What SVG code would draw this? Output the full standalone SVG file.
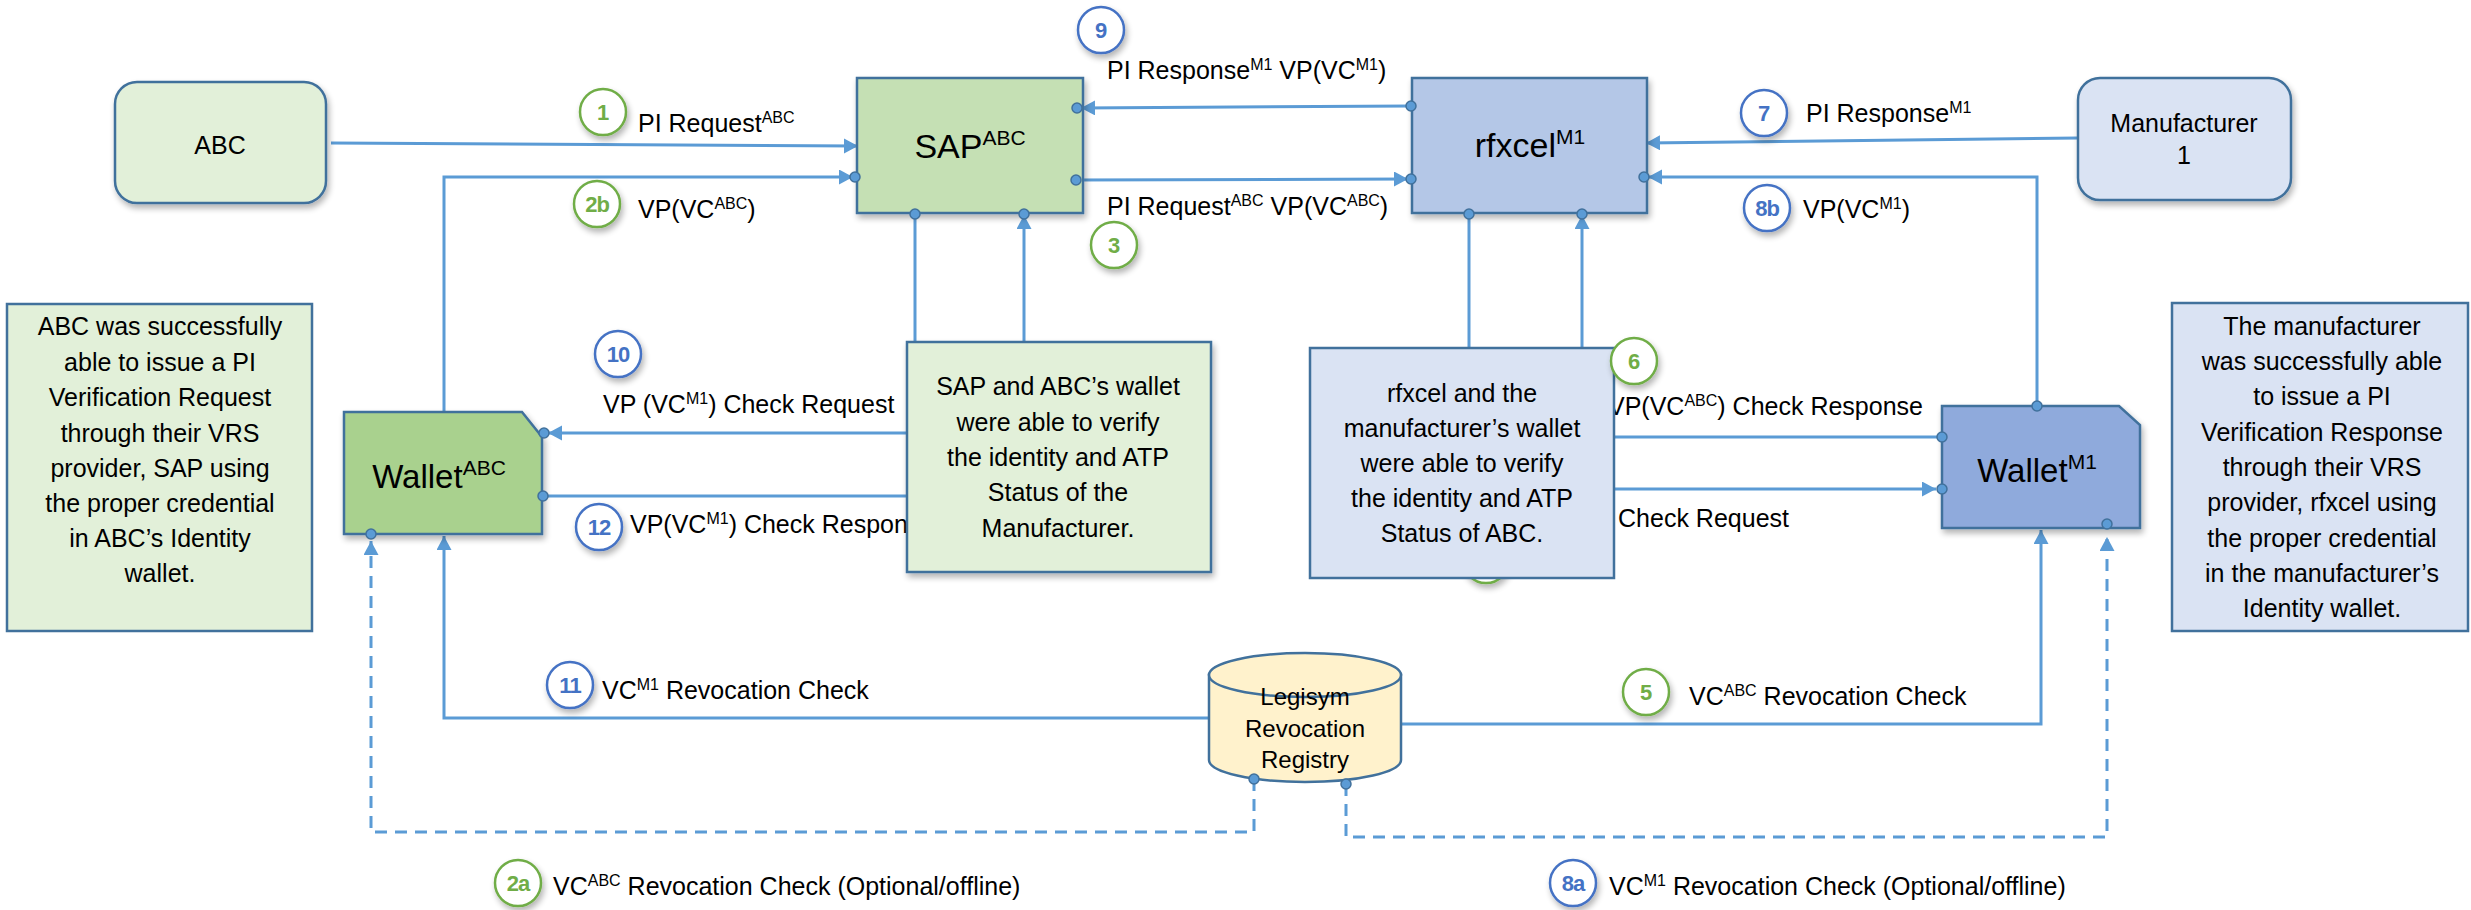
<svg xmlns="http://www.w3.org/2000/svg" width="2471" height="910" viewBox="0 0 2471 910">
<style>
text{font-family:"Liberation Sans",Arial,sans-serif;fill:#000}
.lbl{font-size:25px}
.sup{font-size:16px}
.num{font-weight:bold;font-size:22px;text-anchor:middle}
.mid{text-anchor:middle}
.conn{fill:none;stroke:#5B9BD5;stroke-width:3}
.dash{stroke-dasharray:12 8}
.dot{fill:#5B9BD5;stroke:#41719C;stroke-width:1.5}
.cg{fill:#fff;stroke:#70AD47;stroke-width:2.5}
.cb{fill:#fff;stroke:#4472C4;stroke-width:2.5}
.tg{fill:#70AD47}
.tb{fill:#4472C4}
.box{stroke:#41719C;stroke-width:2.5}
</style>
<defs>
<filter id="sh" x="-20%" y="-20%" width="150%" height="150%">
<feGaussianBlur in="SourceAlpha" stdDeviation="3"/>
<feOffset dx="2" dy="4" result="o"/>
<feComponentTransfer><feFuncA type="linear" slope="0.3"/></feComponentTransfer>
<feMerge><feMergeNode/><feMergeNode in="SourceGraphic"/></feMerge>
</filter>
<marker id="ah" markerUnits="userSpaceOnUse" markerWidth="16" markerHeight="16" refX="14" refY="7.5" orient="auto">
<path d="M0,0 L14,7.5 L0,15 z" fill="#5B9BD5"/>
</marker>
</defs>

<!-- circle 4, mostly hidden behind the rfxcel note -->
<g id="step4"><circle class="cg" cx="1486" cy="560" r="23" filter="url(#sh)"/></g>

<g id="connectors">
<path class="conn" d="M331,143 L858,146" marker-end="url(#ah)"/>
<path class="conn" d="M444,412 V177 H853" marker-end="url(#ah)"/>
<path class="conn" d="M1410,106 L1081,108" marker-end="url(#ah)"/>
<path class="conn" d="M1076,180 L1408,179" marker-end="url(#ah)"/>
<path class="conn" d="M2078,138 L1646,143" marker-end="url(#ah)"/>
<path class="conn" d="M2037,406 V177 H1648" marker-end="url(#ah)"/>
<path class="conn" d="M915,213 V342"/>
<path class="conn" d="M1024,342 V215" marker-end="url(#ah)"/>
<path class="conn" d="M1469,213 V348"/>
<path class="conn" d="M1582,348 V215" marker-end="url(#ah)"/>
<path class="conn" d="M907,433 H548" marker-end="url(#ah)"/>
<path class="conn" d="M542,496 H907"/>
<path class="conn" d="M1614,437 H1942"/>
<path class="conn" d="M1614,489 H1936" marker-end="url(#ah)"/>
<path class="conn" d="M1208,718 H444 V536" marker-end="url(#ah)"/>
<path class="conn" d="M1401,724 H2041 V530" marker-end="url(#ah)"/>
<path class="conn dash" d="M1254,779 V832 H371 V541" marker-end="url(#ah)"/>
<path class="conn dash" d="M1346,784 V837 H2107 V537" marker-end="url(#ah)"/>
</g>

<g id="labels">
<text class="lbl" x="638" y="132">PI Request<tspan class="sup" dy="-9">ABC</tspan></text>
<text class="lbl" x="638" y="218">VP(VC<tspan class="sup" dy="-9">ABC</tspan><tspan dy="9">)</tspan></text>
<text class="lbl" x="1107" y="79">PI Response<tspan class="sup" dy="-9">M1</tspan><tspan dy="9"> VP(VC</tspan><tspan class="sup" dy="-9">M1</tspan><tspan dy="9">)</tspan></text>
<text class="lbl" x="1107" y="215">PI Request<tspan class="sup" dy="-9">ABC</tspan><tspan dy="9"> VP(VC</tspan><tspan class="sup" dy="-9">ABC</tspan><tspan dy="9">)</tspan></text>
<text class="lbl" x="1806" y="122">PI Response<tspan class="sup" dy="-9">M1</tspan></text>
<text class="lbl" x="1803" y="218">VP(VC<tspan class="sup" dy="-9">M1</tspan><tspan dy="9">)</tspan></text>
<text class="lbl" x="603" y="413">VP (VC<tspan class="sup" dy="-9">M1</tspan><tspan dy="9">) Check Request</tspan></text>
<text class="lbl" x="630" y="533">VP(VC<tspan class="sup" dy="-9">M1</tspan><tspan dy="9">) Check Respon</tspan></text>
<text class="lbl" x="1608" y="415">VP(VC<tspan class="sup" dy="-9">ABC</tspan><tspan dy="9">) Check Response</tspan></text>
<text class="lbl" x="1789" y="527" text-anchor="end">Check Request</text>
<text class="lbl" x="602" y="699">VC<tspan class="sup" dy="-9">M1</tspan><tspan dy="9"> Revocation Check</tspan></text>
<text class="lbl" x="1689" y="705">VC<tspan class="sup" dy="-9">ABC</tspan><tspan dy="9"> Revocation Check</tspan></text>
<text class="lbl" x="553" y="895">VC<tspan class="sup" dy="-9">ABC</tspan><tspan dy="9"> Revocation Check (Optional/offline)</tspan></text>
<text class="lbl" x="1609" y="895">VC<tspan class="sup" dy="-9">M1</tspan><tspan dy="9"> Revocation Check (Optional/offline)</tspan></text>
</g>

<g id="abc">
<rect class="box" x="115" y="82" width="211" height="121" rx="22" fill="#E2F0D9" filter="url(#sh)"/>
<text class="mid" x="220" y="154" font-size="25">ABC</text>
</g>

<g id="manufacturer">
<rect class="box" x="2078" y="78" width="213" height="122" rx="22" fill="#DAE3F3" filter="url(#sh)"/>
<text class="mid" x="2184" y="132" font-size="25">Manufacturer</text>
<text class="mid" x="2184" y="164" font-size="25">1</text>
</g>

<g id="sap">
<rect class="box" x="857" y="78" width="226" height="135" fill="#C5E0B4" filter="url(#sh)"/>
<text class="mid" x="970" y="158" font-size="34">SAP<tspan font-size="21" dy="-13">ABC</tspan></text>
</g>

<g id="rfxcel">
<rect class="box" x="1412" y="78" width="235" height="135" fill="#B4C7E7" filter="url(#sh)"/>
<text class="mid" x="1530" y="157" font-size="34">rfxcel<tspan font-size="21" dy="-13">M1</tspan></text>
</g>

<g id="note-abc">
<rect class="box" x="7" y="304" width="305" height="327" fill="#E2F0D9"/>
<text class="mid lbl" x="160" y="335">ABC was successfully</text>
<text class="mid lbl" x="160" y="371">able to issue a PI</text>
<text class="mid lbl" x="160" y="406">Verification Request</text>
<text class="mid lbl" x="160" y="442">through their VRS</text>
<text class="mid lbl" x="160" y="477">provider, SAP using</text>
<text class="mid lbl" x="160" y="512">the proper credential</text>
<text class="mid lbl" x="160" y="547">in ABC’s Identity</text>
<text class="mid lbl" x="160" y="582">wallet.</text>
</g>

<g id="note-m1">
<rect class="box" x="2172" y="303" width="296" height="328" fill="#DAE3F3"/>
<text class="mid lbl" x="2322" y="335">The manufacturer</text>
<text class="mid lbl" x="2322" y="370">was successfully able</text>
<text class="mid lbl" x="2322" y="405">to issue a PI</text>
<text class="mid lbl" x="2322" y="441">Verification Response</text>
<text class="mid lbl" x="2322" y="476">through their VRS</text>
<text class="mid lbl" x="2322" y="511">provider, rfxcel using</text>
<text class="mid lbl" x="2322" y="547">the proper credential</text>
<text class="mid lbl" x="2322" y="582">in the manufacturer’s</text>
<text class="mid lbl" x="2322" y="617">Identity wallet.</text>
</g>

<g id="note-sap">
<rect class="box" x="907" y="342" width="304" height="230" fill="#E2F0D9" filter="url(#sh)"/>
<text class="mid lbl" x="1058" y="395">SAP and ABC’s wallet</text>
<text class="mid lbl" x="1058" y="431">were able to verify</text>
<text class="mid lbl" x="1058" y="466">the identity and ATP</text>
<text class="mid lbl" x="1058" y="501">Status of the</text>
<text class="mid lbl" x="1058" y="537">Manufacturer.</text>
</g>

<g id="note-rfxcel">
<rect class="box" x="1310" y="348" width="304" height="230" fill="#DAE3F3"/>
<text class="mid lbl" x="1462" y="402">rfxcel and the</text>
<text class="mid lbl" x="1462" y="437">manufacturer’s wallet</text>
<text class="mid lbl" x="1462" y="472">were able to verify</text>
<text class="mid lbl" x="1462" y="507">the identity and ATP</text>
<text class="mid lbl" x="1462" y="542">Status of ABC.</text>
</g>

<g id="wallet-abc">
<path class="box" d="M344,412 H522 L542,437 V534 H344 Z" fill="#A9D18E" filter="url(#sh)"/>
<text class="mid" x="439" y="488" font-size="33">Wallet<tspan font-size="21" dy="-13">ABC</tspan></text>
</g>

<g id="wallet-m1">
<path class="box" d="M1942,406 H2119 L2140,425 V528 H1942 Z" fill="#8FAADC" filter="url(#sh)"/>
<text class="mid" x="2037" y="482" font-size="33">Wallet<tspan font-size="21" dy="-13">M1</tspan></text>
</g>

<g id="registry">
<path class="box" d="M1209,675 V760 A96,22 0 0 0 1401,760 V675 Z" fill="#FFF2CC"/>
<ellipse class="box" cx="1305" cy="675" rx="96" ry="22" fill="#FFF2CC"/>
<text class="mid" x="1305" y="705" font-size="24">Legisym</text>
<text class="mid" x="1305" y="737" font-size="24">Revocation</text>
<text class="mid" x="1305" y="768" font-size="24">Registry</text>
</g>

<g id="dots">
<circle class="dot" cx="855" cy="177" r="5"/>
<circle class="dot" cx="1077" cy="108" r="5"/>
<circle class="dot" cx="1076" cy="180" r="5"/>
<circle class="dot" cx="1411" cy="106" r="5"/>
<circle class="dot" cx="1411" cy="179" r="5"/>
<circle class="dot" cx="1644" cy="177" r="5"/>
<circle class="dot" cx="915" cy="214" r="5"/>
<circle class="dot" cx="1024" cy="214" r="5"/>
<circle class="dot" cx="1469" cy="214" r="5"/>
<circle class="dot" cx="1582" cy="214" r="5"/>
<circle class="dot" cx="544" cy="433" r="5"/>
<circle class="dot" cx="543" cy="496" r="5"/>
<circle class="dot" cx="371" cy="534" r="5"/>
<circle class="dot" cx="2037" cy="406" r="5"/>
<circle class="dot" cx="1942" cy="437" r="5"/>
<circle class="dot" cx="1942" cy="489" r="5"/>
<circle class="dot" cx="2107" cy="524" r="5"/>
<circle class="dot" cx="1254" cy="779" r="5"/>
<circle class="dot" cx="1346" cy="784" r="5"/>
</g>

<g id="step1"><circle class="cg" cx="603" cy="112" r="23" filter="url(#sh)"/><text class="num tg" x="603" y="120">1</text></g>
<g id="step2b"><circle class="cg" cx="597" cy="204" r="23" filter="url(#sh)"/><text class="num tg" x="597" y="212" letter-spacing="-1">2b</text></g>
<g id="step9"><circle class="cb" cx="1101" cy="30" r="23" filter="url(#sh)"/><text class="num tb" x="1101" y="38">9</text></g>
<g id="step3"><circle class="cg" cx="1114" cy="245" r="23" filter="url(#sh)"/><text class="num tg" x="1114" y="253">3</text></g>
<g id="step7"><circle class="cb" cx="1764" cy="113" r="23" filter="url(#sh)"/><text class="num tb" x="1764" y="121">7</text></g>
<g id="step8b"><circle class="cb" cx="1767" cy="208" r="23" filter="url(#sh)"/><text class="num tb" x="1767" y="216" letter-spacing="-1">8b</text></g>
<g id="step10"><circle class="cb" cx="618" cy="354" r="23" filter="url(#sh)"/><text class="num tb" x="618" y="362" letter-spacing="-1">10</text></g>
<g id="step12"><circle class="cb" cx="599" cy="527" r="23" filter="url(#sh)"/><text class="num tb" x="599" y="535" letter-spacing="-1">12</text></g>
<g id="step6"><circle class="cg" cx="1634" cy="361" r="23" filter="url(#sh)"/><text class="num tg" x="1634" y="369">6</text></g>
<g id="step11"><circle class="cb" cx="570" cy="685" r="23" filter="url(#sh)"/><text class="num tb" x="570" y="693" letter-spacing="-1">11</text></g>
<g id="step5"><circle class="cg" cx="1646" cy="692" r="23" filter="url(#sh)"/><text class="num tg" x="1646" y="700">5</text></g>
<g id="step2a"><circle class="cg" cx="518" cy="883" r="23" filter="url(#sh)"/><text class="num tg" x="518" y="891" letter-spacing="-1">2a</text></g>
<g id="step8a"><circle class="cb" cx="1573" cy="883" r="23" filter="url(#sh)"/><text class="num tb" x="1573" y="891" letter-spacing="-1">8a</text></g>
</svg>
